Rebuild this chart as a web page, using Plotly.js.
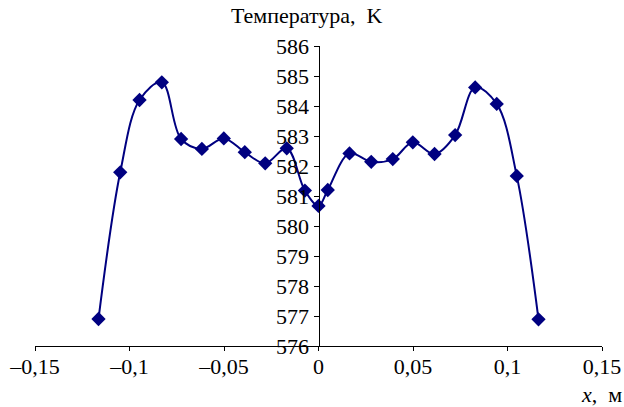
<!DOCTYPE html>
<html>
<head>
<meta charset="utf-8">
<script src="https://cdn.plot.ly/plotly-3.0.1.min.js"></script>
<style>html,body{margin:0;padding:0;background:#fff;}#chart{width:624px;height:407px;}</style>
</head>
<body>
<div id="chart"></div>
<script>
const xPos = [-0.1164, -0.1049, -0.0947, -0.0829, -0.0727, -0.0617, -0.0501, -0.0390, -0.0282, -0.0168, -0.0072, 0.0000, 0.0049, 0.0164, 0.0279, 0.0393, 0.0499, 0.0614, 0.0723, 0.0829, 0.0943, 0.1049, 0.1164];
const temperature = [576.9, 581.79, 584.2, 584.79, 582.9, 582.57, 582.92, 582.46, 582.09, 582.59, 581.18, 580.67, 581.2, 582.42, 582.14, 582.23, 582.79, 582.4, 583.03, 584.62, 584.07, 581.67, 576.89];
const xTickVals = [-0.15, -0.1, -0.05, 0, 0.05, 0.1, 0.15];
const xTickText = ['–0,15', '–0,1', '–0,05', '0', '0,05', '0,1', '0,15'];
const yTickVals = [576, 577, 578, 579, 580, 581, 582, 583, 584, 585, 586];

const font = {family: 'Liberation Serif', size: 22, color: '#000'};

const trace = {
  x: xPos, y: temperature,
  type: 'scatter', mode: 'lines+markers',
  line: {color: '#000080', width: 2, shape: 'spline', smoothing: 1},
  marker: {symbol: 'diamond', size: 11, color: '#000080'},
  cliponaxis: false
};

const layout = {
  width: 624, height: 407,
  margin: {l: 35, r: 22, t: 46, b: 61},
  paper_bgcolor: '#fff', plot_bgcolor: '#fff',
  showlegend: false,
  font: font,
  xaxis: {
    range: [-0.15, 0.15],
    tickvals: xTickVals, ticktext: xTickText,
    ticks: 'outside', ticklen: 4, tickwidth: 1, tickcolor: '#000',
    ticklabelstandoff: -3,
    showline: true, linecolor: '#000', linewidth: 1,
    showgrid: false, zeroline: false,
    tickfont: font
  },
  yaxis: {
    range: [576, 586],
    tickvals: yTickVals,
    anchor: 'free', position: 0.5,
    ticks: 'outside', ticklen: 5, tickwidth: 1, tickcolor: '#000',
    showline: true, linecolor: '#000', linewidth: 1,
    showgrid: false, zeroline: false,
    tickfont: font
  },
  annotations: [
    {text: 'Температура,\u00A0\u00A0K', xref: 'paper', yref: 'paper', x: 0.48, y: 1.103,
     xanchor: 'center', yanchor: 'middle', showarrow: false, font: font},
    {text: '<i>x</i>,\u00A0\u00A0м', xref: 'paper', yref: 'paper', x: 1.038, y: -0.163,
     xanchor: 'right', yanchor: 'middle', showarrow: false, font: font}
  ]
};

Plotly.newPlot('chart', [trace], layout, {staticPlot: true, displayModeBar: false});
</script>
</body>
</html>
